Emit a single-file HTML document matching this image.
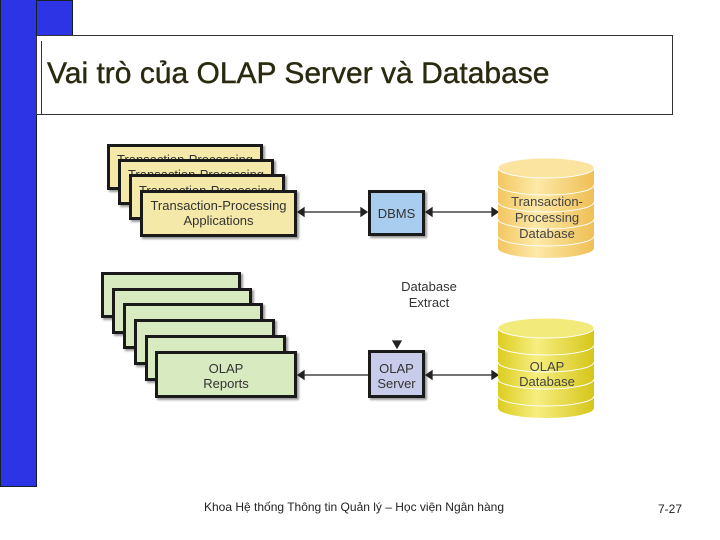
<!DOCTYPE html>
<html><head><meta charset="utf-8"><style>
body{margin:0;width:720px;height:540px;background:#fff;position:relative;overflow:hidden;font-family:"Liberation Sans",sans-serif}
.a{position:absolute}
.bx{position:absolute;border:3px solid #1a1a1a;box-shadow:2px 2px 2px #999;box-sizing:border-box;font-size:13px;text-align:center;line-height:15px;color:#333;overflow:hidden}
.y{background:#f4e9a8}.g{background:#d8eac0}
</style></head><body>
<div class="a" style="left:0;top:0;width:73px;height:36px;background:#2c34e6;border:1px solid #122;box-sizing:border-box"></div>
<div class="a" style="left:0;top:0;width:37px;height:487px;background:#2c34e6;border:1px solid #122;border-top:none;box-sizing:border-box"></div>
<div class="a" style="left:36px;top:35px;width:637px;height:80px;background:#fff;border:1px solid #333;box-sizing:border-box"></div>
<div class="a" style="left:41px;top:41px;width:1px;height:73px;background:#333"></div>
<div class="a" style="left:47px;top:57px;font-size:30px;color:#2a2a10;-webkit-text-stroke:0.4px #2a2a10">Vai trò của OLAP Server và Database</div>

<div class="bx y" style="left:107px;top:144px;width:156px;height:46px;padding-top:5px">Transaction-Processing</div>
<div class="bx y" style="left:118px;top:159px;width:156px;height:46px;padding-top:5px">Transaction-Processing</div>
<div class="bx y" style="left:129px;top:174px;width:156px;height:46px;padding-top:6px">Transaction-Processing</div>
<div class="bx y" style="left:140px;top:190px;width:157px;height:47px;padding-top:5px">Transaction-Processing<br>Applications</div>

<div class="bx g" style="left:101px;top:272px;width:140px;height:46px"></div>
<div class="bx g" style="left:112px;top:288px;width:140px;height:46px"></div>
<div class="bx g" style="left:123px;top:303px;width:140px;height:46px"></div>
<div class="bx g" style="left:134px;top:319px;width:141px;height:46px"></div>
<div class="bx g" style="left:145px;top:335px;width:141px;height:46px"></div>
<div class="bx g" style="left:155px;top:351px;width:142px;height:47px;padding-top:7px">OLAP<br>Reports</div>

<div class="bx" style="left:368px;top:190px;width:57px;height:46px;background:#a8cdee;padding-top:13px">DBMS</div>
<div class="bx" style="left:368px;top:350px;width:57px;height:48px;background:#c8cbea;padding-top:8px">OLAP<br>Server</div>
<div class="a" style="left:429px;top:279px;transform:translateX(-50%);font-size:13px;color:#333;text-align:center;line-height:16px">Database<br>Extract</div>

<svg class="a" style="left:0;top:0" width="720" height="540">
<defs>
<linearGradient id="c1" x1="0" x2="1"><stop offset="0" stop-color="#f3c660"/><stop offset=".4" stop-color="#fde9a8"/><stop offset="1" stop-color="#efbf55"/></linearGradient>
<linearGradient id="c2" x1="0" x2="1"><stop offset="0" stop-color="#dccd20"/><stop offset=".4" stop-color="#f6ee80"/><stop offset="1" stop-color="#d6c61a"/></linearGradient>
</defs>
<g stroke="#222" stroke-width="1.3" fill="#222">
<line x1="300" y1="212" x2="365" y2="212"/><path d="M298 212l6-4v8z"/><path d="M367 212l-6-4v8z"/>
<line x1="428" y1="212" x2="496" y2="212"/><path d="M426 212l6-4v8z"/><path d="M498 212l-6-4v8z"/>
<line x1="300" y1="375" x2="368" y2="375"/><path d="M298 375l6-4v8z"/>
<line x1="428" y1="375" x2="496" y2="375"/><path d="M426 375l6-4v8z"/><path d="M498 375l-6-4v8z"/>
<path d="M393 341h8l-4 7z"/>
</g>
<g>
<path d="M498 168v80a48 10 0 0 0 96 0v-80z" fill="url(#c1)"/>
<ellipse cx="546" cy="168" rx="48" ry="10" fill="#fbe3a0" stroke="#fff" stroke-width="1"/>
<g stroke="#fff" fill="none" stroke-width="1"><path d="M498 185a48 10 0 0 0 96 0M498 202a48 10 0 0 0 96 0M498 219a48 10 0 0 0 96 0M498 236a48 10 0 0 0 96 0"/></g>
<path d="M498 328v80a48 10 0 0 0 96 0v-80z" fill="url(#c2)"/>
<ellipse cx="546" cy="328" rx="48" ry="10" fill="#f2ea7a" stroke="#fff" stroke-width="1"/>
<g stroke="#fff" fill="none" stroke-width="1"><path d="M498 345a48 10 0 0 0 96 0M498 362a48 10 0 0 0 96 0M498 379a48 10 0 0 0 96 0M498 396a48 10 0 0 0 96 0"/></g>
</g>
<g font-family="Liberation Sans,sans-serif" font-size="13" fill="#444" text-anchor="middle">
<text x="547" y="206">Transaction-</text><text x="547" y="222">Processing</text><text x="547" y="238">Database</text>
<text x="547" y="371">OLAP</text><text x="547" y="386">Database</text>
</g>
</svg>
<div class="a" style="left:354px;top:500px;transform:translateX(-50%);font-size:12px;color:#222;white-space:nowrap">Khoa Hệ thống Thông tin Quản lý – Học viện Ngân hàng</div>
<div class="a" style="left:658px;top:502px;font-size:12px;color:#222">7-27</div>
</body></html>
